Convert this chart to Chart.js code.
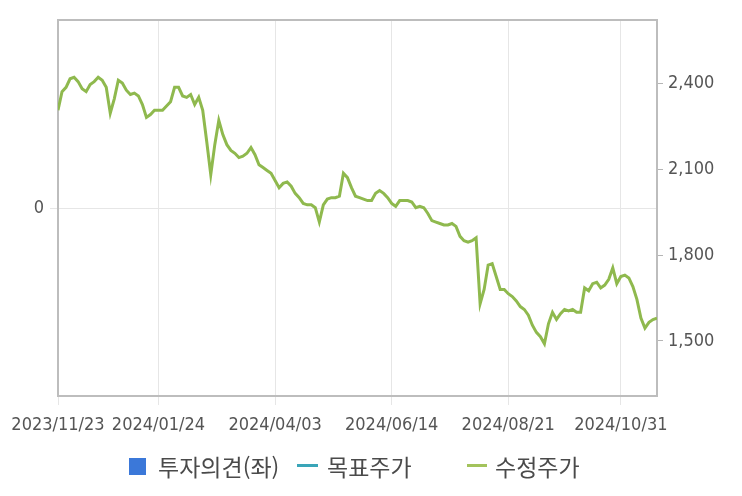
<!DOCTYPE html>
<html lang="ko">
<head>
<meta charset="utf-8">
<title>수정주가</title>
<script src="https://cdn.jsdelivr.net/npm/chart.js@4.4.1/dist/chart.umd.min.js"></script>
<style>
    html, body {
        margin: 0;
        padding: 0;
        background: #ffffff;
    }

    #wrap {
        position: relative;
        width: 742px;
        height: 496px;
    }

    #legend {
        position: absolute;
        left: 0;
        top: 450px;
        width: 742px;
        height: 32px;
        font-family: "Noto Sans CJK KR", sans-serif;
        font-size: 23px;
        color: #4a4a4a;
    }

    .item {
        position: absolute;
        top: 0;
        line-height: 32px;
        white-space: nowrap;
    }

    .box {
        position: absolute;
    }
</style>
</head>
<body>

<div id="wrap">
    <canvas id="priceChart"></canvas>

    <div id="legend">
        <span class="box" style="left:129px; top:8px; width:17px; height:17px; background:#3b78d9;"></span>
        <span class="item" style="left:158px;">투자의견(좌)</span>

        <span class="box" style="left:297px; top:14px; width:21px; height:3px; background:#3aa5b8;"></span>
        <span class="item" style="left:327px;">목표주가</span>

        <span class="box" style="left:467px; top:14px; width:20px; height:3px; background:#a3c35c;"></span>
        <span class="item" style="left:495px;">수정주가</span>
    </div>
</div>

<script>
// ======================================================
// Data
// ======================================================

const tickLabels = [
    "2023/11/23",
    "2024/01/24",
    "2024/04/03",
    "2024/06/14",
    "2024/08/21",
    "2024/10/31"
];

const tickIndex = [0, 25, 54, 83, 112, 140];

const opinion = [];

const targetPrice = [];

const adjustedPrice = [
    2305, 2370, 2385, 2415, 2420, 2405, 2380, 2370, 2395, 2405,
    2420, 2410, 2385, 2295, 2345, 2410, 2400, 2375, 2360, 2365,
    2355, 2325, 2280, 2290, 2305, 2305, 2305, 2320, 2335, 2385,
    2385, 2355, 2350, 2360, 2325, 2350, 2305, 2195, 2080, 2185,
    2270, 2220, 2185, 2165, 2155, 2140, 2145, 2155, 2175, 2150,
    2115, 2105, 2095, 2085, 2060, 2035, 2050, 2055, 2040, 2015,
    2000, 1980, 1975, 1975, 1965, 1915, 1975, 1995, 2000, 2000,
    2005, 2085, 2070, 2035, 2005, 2000, 1995, 1990, 1990, 2015,
    2025, 2015, 2000, 1980, 1970, 1990, 1990, 1990, 1985, 1965,
    1970, 1965, 1945, 1920, 1915, 1910, 1905, 1905, 1910, 1900,
    1865, 1850, 1845, 1850, 1860, 1630, 1680, 1765, 1770, 1725,
    1680, 1680, 1665, 1655, 1640, 1620, 1610, 1590, 1555, 1530,
    1515, 1490, 1560, 1600, 1575, 1595, 1610, 1605, 1610, 1600,
    1600, 1685, 1675, 1700, 1705, 1685, 1695, 1715, 1755, 1700,
    1725, 1730, 1720, 1690, 1645, 1580, 1545, 1565, 1575, 1580
];

const rightTicks = [1500, 1800, 2100, 2400];

// ======================================================
// Theme
// ======================================================

const tickFont = {
    family: "'DejaVu Sans Condensed', 'Liberation Sans', sans-serif",
    size: 18
};

const tickColor = "#555555";
const gridColor = "#e6e6e6";
const borderColor = "#bdbdbd";

// ======================================================
// Plot Frame (top edge of the box)
// ======================================================

const frameTop = {
    id: "frameTop",

    afterDraw(chart) {
        const { ctx, chartArea } = chart;

        ctx.save();
        ctx.strokeStyle = borderColor;
        ctx.lineWidth = 2;
        ctx.beginPath();
        ctx.moveTo(chartArea.left - 1, chartArea.top);
        ctx.lineTo(chartArea.right + 1, chartArea.top);
        ctx.stroke();
        ctx.restore();
    }
};

// ======================================================
// Create Chart
// ======================================================

const points =
    adjustedPrice.map((v, i) => ({ x: i, y: v }));

new Chart(
    document.getElementById("priceChart"),
    {
        type: "line",

        data: {
            datasets: [
                {
                    type: "bar",
                    label: "투자의견(좌)",
                    data: opinion,
                    backgroundColor: "#3b78d9",
                    yAxisID: "y"
                },
                {
                    label: "목표주가",
                    data: targetPrice,
                    borderColor: "#3aa5b8",
                    borderWidth: 3,
                    pointRadius: 0,
                    yAxisID: "y1"
                },
                {
                    label: "수정주가",
                    data: points,
                    borderColor: "#8fb94e",
                    borderWidth: 3,
                    pointRadius: 0,
                    tension: 0,
                    fill: false,
                    yAxisID: "y1"
                }
            ]
        },

        options: {
            responsive: true,
            maintainAspectRatio: false,
            animation: false,

            layout: {
                padding: { top: 20, left: 0, right: 0, bottom: 0 }
            },

            plugins: {
                legend: { display: false },
                tooltip: { enabled: false }
            },

            scales: {

                x: {
                    type: "linear",
                    offset: false,
                    min: 0,
                    max: adjustedPrice.length - 1,

                    afterBuildTicks(axis) {
                        axis.ticks = tickIndex.map(v => ({ value: v }));
                    },

                    afterFit(axis) {
                        axis.height = 100;
                    },

                    ticks: {
                        autoSkip: false,
                        maxRotation: 0,
                        padding: 10,
                        color: tickColor,
                        font: tickFont,
                        callback: (value) =>
                            tickLabels[tickIndex.indexOf(value)]
                    },

                    grid: {
                        offset: false,
                        color: gridColor,
                        tickLength: 9
                    },

                    border: {
                        color: borderColor,
                        width: 2
                    }
                },

                y: {
                    position: "left",
                    min: -1,
                    max: 1,

                    afterBuildTicks(axis) {
                        axis.ticks = [{ value: 0 }];
                    },

                    afterFit(axis) {
                        axis.width = 58;
                    },

                    ticks: {
                        padding: 6,
                        color: tickColor,
                        font: tickFont
                    },

                    grid: {
                        color: gridColor,
                        tickLength: 8
                    },

                    border: {
                        color: borderColor,
                        width: 2
                    }
                },

                y1: {
                    position: "right",
                    min: 1308,
                    max: 2620,

                    afterBuildTicks(axis) {
                        axis.ticks = rightTicks.map(v => ({ value: v }));
                    },

                    afterFit(axis) {
                        axis.width = 85;
                    },

                    ticks: {
                        padding: 5,
                        color: tickColor,
                        font: tickFont,
                        callback: (value) => value.toLocaleString("en-US")
                    },

                    grid: {
                        drawOnChartArea: false,
                        color: "#b5b5b5",
                        tickLength: 6
                    },

                    border: {
                        color: borderColor,
                        width: 2
                    }
                }
            }
        },

        plugins: [frameTop]
    }
);
</script>
</body>
</html>
